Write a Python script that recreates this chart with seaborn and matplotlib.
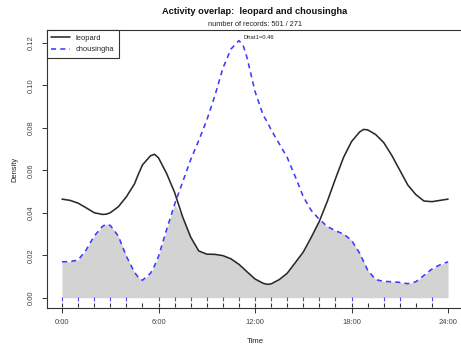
import numpy as np
import pandas as pd
import matplotlib
matplotlib.use("Agg")
import matplotlib.pyplot as plt
import seaborn as sns
from matplotlib.lines import Line2D

# ---- data ----
hours = [0.0, 0.5, 1.0, 1.5, 2.0, 2.5, 2.75, 3.0, 3.5, 4.0, 4.5, 4.75, 5.0,
         5.5, 5.75, 6.0, 6.5, 7.0, 7.5, 8.0, 8.5, 9.0, 9.5, 10.0, 10.5, 11.0,
         11.25, 11.5, 12.0, 12.5, 12.75, 13.0, 13.5, 14.0, 14.5, 15.0, 15.5,
         16.0, 16.5, 17.0, 17.5, 18.0, 18.5, 18.75, 19.0, 19.5, 20.0, 20.5,
         21.0, 21.5, 22.0, 22.5, 23.0, 23.5, 24.0]
leopard = [0.0464, 0.0458, 0.0445, 0.0423, 0.0400, 0.0392, 0.0393, 0.0400,
           0.0428, 0.0475, 0.0535, 0.0582, 0.0625, 0.0668, 0.0675, 0.0658,
           0.0585, 0.0495, 0.0380, 0.0285, 0.0220, 0.0205, 0.0204, 0.0198,
           0.0183, 0.0157, 0.0140, 0.0122, 0.0088, 0.0068, 0.0063, 0.0065,
           0.0085, 0.0115, 0.0165, 0.0215, 0.0285, 0.0360, 0.0455, 0.0560,
           0.0660, 0.0735, 0.0780, 0.0792, 0.0790, 0.0768, 0.0730, 0.0670,
           0.0600, 0.0530, 0.0485, 0.0455, 0.0452, 0.0458, 0.0464]
chousingha = [0.0169, 0.0170, 0.0177, 0.0225, 0.0290, 0.0335, 0.0346, 0.0340,
              0.0290, 0.0195, 0.0120, 0.0095, 0.0082, 0.0115, 0.0150, 0.0195,
              0.0320, 0.0440, 0.0545, 0.0650, 0.0740, 0.0836, 0.0950, 0.1080,
              0.1170, 0.1210, 0.1190, 0.1130, 0.0970, 0.0860, 0.0828, 0.0790,
              0.0725, 0.0660, 0.0570, 0.0475, 0.0410, 0.0368, 0.0335, 0.0315,
              0.0300, 0.0270, 0.0210, 0.0170, 0.0130, 0.0085, 0.0077, 0.0075,
              0.0072, 0.0066, 0.0075, 0.0105, 0.0135, 0.0155, 0.0169]
rug_leopard = list(range(0, 24))
rug_chousingha = [0, 1, 2, 3, 4, 6, 7, 8, 9, 10, 11, 12, 13, 14, 15, 16, 17,
                  18, 20, 21, 23]
xtick_pos = [0, 6, 12, 18, 24]
xtick_labels = ["0:00", "6:00", "12:00", "18:00", "24:00"]
ytick_pos = [0.00, 0.02, 0.04, 0.06, 0.08, 0.10, 0.12]
title = "Activity overlap:  leopard and chousingha"
subtitle = "number of records: 501 / 271"
dhat_text = "Dhat1=0.46"

sns.set_theme(style="white")
plt.rcParams['font.family'] = ['Liberation Sans', 'DejaVu Sans']

fig = plt.figure(figsize=(4.61, 3.47), dpi=100)
ax = fig.add_axes([46.6 / 461, 39 / 347, (463.5 - 46.6) / 461, 278 / 347])

df = pd.DataFrame({
    "Time": hours * 2,
    "Density": leopard + chousingha,
    "species": ["leopard"] * len(hours) + ["chousingha"] * len(hours),
})

ax.fill_between(hours, 0, np.minimum(leopard, chousingha), color="#d3d3d3",
                linewidth=0, zorder=1)

sns.lineplot(data=df, x="Time", y="Density", hue="species", style="species",
             palette={"leopard": "#2a2a2a", "chousingha": "#3b3bff"},
             dashes={"leopard": "", "chousingha": (3.2, 2.6)},
             linewidth=1.15, ax=ax, zorder=3, legend=False)

ax.vlines(rug_leopard, -0.0043, -0.0026, color="#333333", linewidth=0.8, zorder=2)
ax.vlines(rug_chousingha, -0.00135, 0.0002, color="#4a4aff", linewidth=0.8, zorder=2)

ax.set_xlim(-0.96, 24.96)
ax.set_ylim(-0.00485, 0.126)

ax.set_xticks(xtick_pos)
ax.set_xticklabels(xtick_labels)
ax.set_yticks(ytick_pos)
ax.set_yticklabels([f"{v:.2f}" for v in ytick_pos], rotation=90, va="center")
ax.tick_params(axis="both", which="both", direction="out", length=3.6,
               width=0.7, color="#333333", labelsize=5.5, labelcolor="#444444",
               bottom=True, left=True, pad=4)
ax.tick_params(axis="y", pad=5)
ax.set_xlabel("Time", fontsize=5.6, color="#222222", labelpad=9)
ax.set_ylabel("Density", fontsize=5.4, color="#222222", labelpad=7)

for s in ["left", "bottom", "top", "right"]:
    ax.spines[s].set_color("#333333")
    ax.spines[s].set_linewidth(0.8)
    ax.spines[s].set_visible(True)
ax.grid(False)

handles = [Line2D([], [], color="#2a2a2a", lw=1.15),
           Line2D([], [], color="#3b3bff", lw=1.15, dashes=(3.2, 2.6))]
leg = ax.legend(handles, ["leopard", "chousingha"], loc="upper left",
                bbox_to_anchor=(0, 1), borderaxespad=0, fontsize=5.4,
                frameon=True, fancybox=False, framealpha=1, edgecolor="#333333",
                handlelength=2.5, handletextpad=0.75, borderpad=0.6,
                labelspacing=0.55)
leg.get_frame().set_linewidth(0.8)

fig.text(255 / 461, 1 - 11 / 347, title, ha="center", va="center",
         fontsize=6.7, fontweight="bold", color="#111111")
fig.text(255 / 461, 1 - 25 / 347, subtitle, ha="center", va="center",
         fontsize=5.3, color="#222222")
ax.text(12.25, 0.1227, dhat_text, ha="center", va="center", fontsize=4.2,
        color="#222222")

fig.savefig("out.png", dpi=100)
